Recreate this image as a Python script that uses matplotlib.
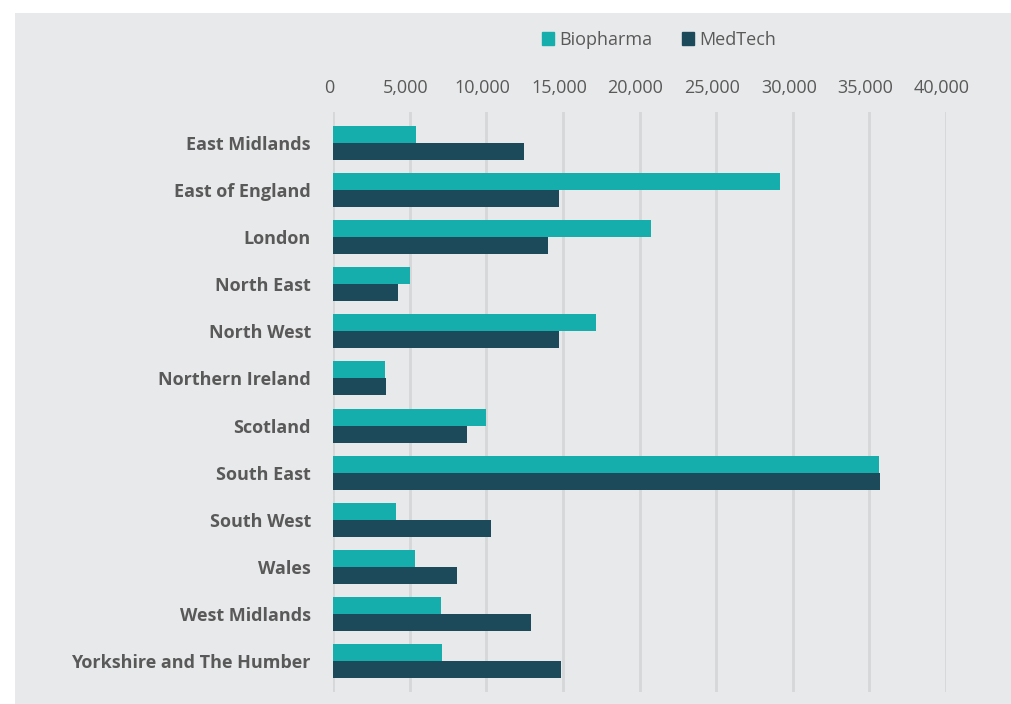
import matplotlib
matplotlib.use("Agg")
import matplotlib.pyplot as plt
import matplotlib.patches as mpatches
import matplotlib.transforms as mtransforms
import numpy as np

regions = ["East Midlands", "East of England", "London", "North East", "North West",
           "Northern Ireland", "Scotland", "South East", "South West", "Wales",
           "West Midlands", "Yorkshire and The Humber"]
biopharma = [5400, 29150, 20770, 5020, 17190, 3410, 9975, 35650, 4130, 5350, 7040, 7120]
medtech = [12450, 14730, 14050, 4250, 14730, 3460, 8730, 35720, 10300, 8080, 12930, 14860]
xticks = [0, 5000, 10000, 15000, 20000, 25000, 30000, 35000, 40000]
xticklabels = ["0", "5,000", "10,000", "15,000", "20,000", "25,000", "30,000", "35,000", "40,000"]

TEAL = "#16AEAC"
DARK = "#1D4A5A"
BG = "#E8E9EA"
TXT = "#595959"
GRID = "#D6D7D8"

plt.rcParams['font.family'] = ['Open Sans', 'DejaVu Sans']

fig = plt.figure(figsize=(10.11, 7.04), dpi=100)
fig.patch.set_facecolor("white")
bgrect = mpatches.Rectangle((15 / 1011, 0), 1, 1 - 13 / 704,
                            transform=fig.transFigure, facecolor=BG,
                            edgecolor="none", zorder=-10)
fig.patches.append(bgrect)

ax = fig.add_axes([333 / 1011, 1 - 692 / 704, (946 - 333) / 1011, (692 - 112) / 704])
ax.set_facecolor("none")
ax.set_zorder(1)

y = np.arange(len(regions))
h = 0.36
ax.barh(y - h / 2, biopharma, height=h, color=TEAL, label="Biopharma", zorder=3)
ax.barh(y + h / 2, medtech, height=h, color=DARK, label="MedTech", zorder=3)

ax.set_xlim(0, 40000)
ax.set_ylim(len(regions) - 0.35, -0.65)
ax.set_xticks(xticks)
ax.set_xticklabels(xticklabels)
ax.set_yticks(y)
ax.set_yticklabels(regions, fontweight="bold")

ax.xaxis.set_ticks_position("top")
ax.tick_params(axis="x", which="both", length=0, pad=11, labelsize=13, labelcolor=TXT,
               labeltop=True, labelbottom=False)
ax.tick_params(axis="y", length=0, pad=16, labelsize=13, labelcolor=TXT)

offset = mtransforms.ScaledTranslation(-4 / 100, 0, fig.dpi_scale_trans)
for lbl in ax.get_xticklabels():
    lbl.set_transform(lbl.get_transform() + offset)

ax.grid(axis="x", color=GRID, linewidth=2, zorder=0)
ax.set_axisbelow(True)
for s in ax.spines.values():
    s.set_visible(False)

handles = [mpatches.Patch(color=TEAL, label="Biopharma"),
           mpatches.Patch(color=DARK, label="MedTech")]
leg = fig.legend(handles=handles, loc="center", bbox_to_anchor=(659 / 1011, 1 - 40 / 704),
                 ncol=2, frameon=False, fontsize=13, handlelength=0.7, handleheight=0.7,
                 handletextpad=0.3, columnspacing=1.6, labelcolor=TXT)

fig.savefig("out.png", dpi=100, facecolor="white")
